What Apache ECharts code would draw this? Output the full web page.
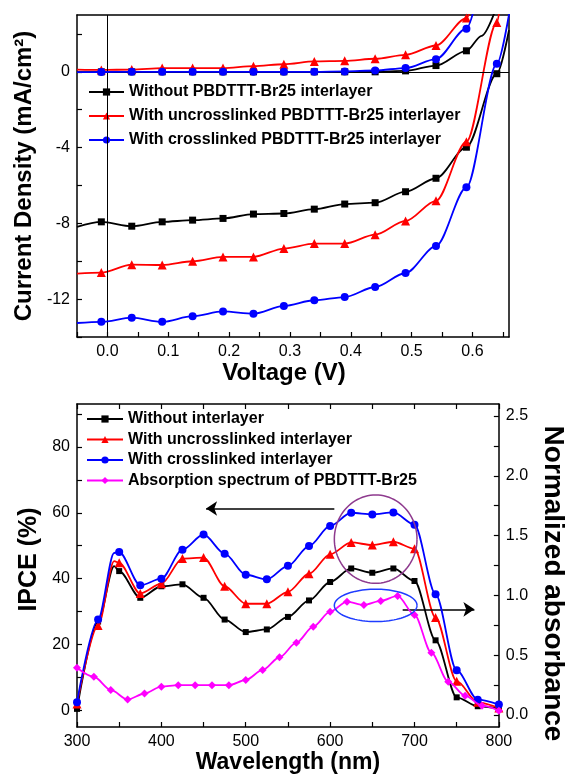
<!DOCTYPE html>
<html><head><meta charset="utf-8">
<script src="https://cdn.jsdelivr.net/npm/echarts@6/dist/echarts.min.js"></script>
<style>html,body{margin:0;padding:0;background:#fff}#c{width:575px;height:776px}</style>
</head><body><div id="c"></div>
<script>
// ================= J-V curves (top panel) =================
const jvNames = ['Without PBDTTT-Br25 interlayer', 'With uncrosslinked PBDTTT-Br25 interlayer', 'With crosslinked PBDTTT-Br25 interlayer'];
// illuminated curves
const vBlackLight = [-0.05, -0.01, 0.04, 0.09, 0.14, 0.19, 0.24, 0.29, 0.34, 0.39, 0.44, 0.49, 0.54, 0.59, 0.64, 0.66];
const jBlackLight = [-8.18, -7.92, -8.15, -7.92, -7.83, -7.74, -7.51, -7.48, -7.25, -6.98, -6.91, -6.33, -5.62, -3.98, -0.1, 2.2];
const vRedLight = [-0.05, -0.01, 0.04, 0.09, 0.14, 0.19, 0.24, 0.29, 0.34, 0.39, 0.44, 0.49, 0.54, 0.59, 0.64, 0.645];
const jRedLight = [-10.65, -10.6, -10.18, -10.2, -10.0, -9.77, -9.77, -9.33, -9.07, -9.07, -8.6, -7.87, -6.81, -3.69, 2.6, 3.4];
const vBlueLight = [-0.05, -0.01, 0.04, 0.09, 0.14, 0.19, 0.24, 0.29, 0.34, 0.39, 0.44, 0.49, 0.54, 0.59, 0.64, 0.662];
const jBlueLight = [-13.26, -13.2, -12.98, -13.2, -12.9, -12.65, -12.77, -12.36, -12.06, -11.89, -11.36, -10.62, -9.2, -6.1, 0.42, 3.4];
// dark curves
const vBlackDark = [-0.05, -0.01, 0.04, 0.09, 0.14, 0.19, 0.24, 0.29, 0.34, 0.39, 0.44, 0.49, 0.54, 0.59, 0.615, 0.645];
const jBlackDark = [-0.02, 0, 0, 0, 0, 0, 0, 0, 0, 0, 0, 0.05, 0.33, 1.11, 1.9, 3.9];
const vRedDark = [-0.05, -0.01, 0.04, 0.09, 0.14, 0.19, 0.24, 0.29, 0.34, 0.39, 0.44, 0.49, 0.54, 0.59, 0.605];
const jRedDark = [0.12, 0.1, 0.12, 0.2, 0.2, 0.2, 0.3, 0.4, 0.55, 0.58, 0.69, 0.9, 1.39, 2.84, 4.2];
const vBlueDark = [-0.05, -0.01, 0.04, 0.09, 0.14, 0.19, 0.24, 0.29, 0.34, 0.39, 0.44, 0.49, 0.54, 0.59, 0.605];
const jBlueDark = [-0.02, -0.01, 0, 0, 0, 0, 0, 0, 0, 0.02, 0.07, 0.2, 0.67, 2.28, 3.6];
// axis ticks
const jvXTicks = [-0.05, 0, 0.05, 0.1, 0.15, 0.2, 0.25, 0.3, 0.35, 0.4, 0.45, 0.5, 0.55, 0.6, 0.65];
const jvXLabels = [0, 0.1, 0.2, 0.3, 0.4, 0.5, 0.6];
const jvYTicks = [-14, -12, -10, -8, -6, -4, -2, 0, 2];
const jvYLabels = [-12, -8, -4, 0];

// ================= IPCE / absorption (bottom panel) =================
const ipceNames = ['Without interlayer', 'With uncrosslinked interlayer', 'With crosslinked interlayer', 'Absorption spectrum of PBDTTT-Br25'];
const wlIPCE = [300, 325, 344, 350, 375, 400, 425, 450, 475, 500, 525, 550, 575, 600, 625, 650, 675, 700, 725, 750, 775, 800];
const ipceBlack = [0.5, 27.0, 43.8, 42.3, 34.2, 37.7, 38.3, 34.2, 27.6, 23.8, 24.6, 28.4, 33.4, 39.0, 43.1, 41.8, 43.1, 39.3, 21.3, 4.0, 1.3, 0.6];
const ipceRed = [2.0, 25.8, 45.3, 44.8, 35.5, 38.5, 46.1, 46.4, 37.7, 32.4, 32.4, 36.0, 41.5, 47.4, 51.0, 50.2, 51.2, 49.1, 28.2, 8.9, 2.5, 0.8];
const ipceBlue = [2.5, 27.6, 47.8, 48.1, 38.0, 40.0, 48.8, 53.4, 47.6, 41.2, 39.8, 43.9, 49.9, 56.0, 60.0, 59.5, 60.1, 56.4, 35.3, 12.2, 3.3, 1.8];
const wlAbs = [300, 320, 340, 360, 380, 400, 420, 440, 460, 480, 500, 520, 540, 560, 580, 600, 620, 640, 660, 680, 700, 720, 740, 760, 780, 800];
const absPink = [0.396, 0.32, 0.21, 0.13, 0.18, 0.237, 0.25, 0.25, 0.25, 0.25, 0.293, 0.377, 0.483, 0.605, 0.739, 0.864, 0.948, 0.92, 0.954, 0.996, 0.837, 0.521, 0.279, 0.162, 0.078, 0.036];
const wlTicks = [300, 350, 400, 450, 500, 550, 600, 650, 700, 750, 800];
const wlLabels = [300, 400, 500, 600, 700, 800];
const ipceTicks = [0, 10, 20, 30, 40, 50, 60, 70, 80, 90];
const ipceLabels = [0, 20, 40, 60, 80];
const absTicks = [0, 0.25, 0.5, 0.75, 1, 1.25, 1.5, 1.75, 2, 2.25, 2.5];
const absLabels = [0, 0.5, 1, 1.5, 2, 2.5];
// annotations (data units: wavelength, IPCE)
const arrowLeft = [[605, 61.3], [453, 61.3]];
const arrowRight = [[686, 30.7], [771, 30.7]];
const circlePurple = {wl: 654, ipce: 52, rwl: 49, ripce: 13.4};
const ellipseBlue = {wl: 654, ipce: 31.9, rwl: 49, ripce: 4.9};

const FONT = '"Liberation Sans", Arial, sans-serif';
const chart = echarts.init(document.getElementById('c'), null, {renderer: 'canvas'});

function near(a, b) { return Math.abs(a - b) < 1e-6; }
function jvData(vs, js) {
  return vs.map((v, i) => {
    const k = (v + 0.01) / 0.05;
    const mark = v > -0.02 && near(k, Math.round(k));
    return mark ? [v, js[i]] : {value: [v, js[i]], symbol: 'none'};
  });
}
function ipceData(ws, ys) {
  return ws.map((w, i) => (w % 25 === 0) ? [w, ys[i]] : {value: [w, ys[i]], symbol: 'none'});
}
const colors = ['#000000', '#ff0000', '#0000ff', '#ff00ff'];
const symbols = ['rect', 'triangle', 'circle', 'diamond'];
const sizes = [7, 9, 8, 9];

function lineSeries(name, idx, data, xi, yi, extra) {
  return Object.assign({
    type: 'line', name, data, xAxisIndex: xi, yAxisIndex: yi,
    smooth: 0.3, smoothMonotone: 'x',
    symbol: symbols[idx], symbolSize: sizes[idx],
    itemStyle: {color: colors[idx]},
    lineStyle: {color: colors[idx], width: 1.8},
    emphasis: {disabled: true}, clip: true, z: 3 + idx
  }, extra || {});
}

const axisLineStyle = {show: true, onZero: false, lineStyle: {color: '#000', width: 1.5}};
const labelStyle = {color: '#000', fontSize: 16, fontFamily: FONT};
const nameStyle = (size, pad) => ({color: '#000', fontSize: size, fontWeight: 'bold', fontFamily: FONT, padding: pad || 0});

const option = {
  animation: false,
  backgroundColor: '#fff',
  grid: [
    {left: 77, top: 15, width: 432, height: 322},
    {left: 77, top: 404, width: 433, height: 323}
  ],
  legend: [
    {data: jvNames, orient: 'vertical', left: 83, top: 79, itemWidth: 35, itemHeight: 9, itemGap: 8,
     textStyle: {fontSize: 16, fontWeight: 'bold', color: '#000', fontFamily: FONT}},
    {data: ipceNames, orient: 'vertical', left: 81, top: 406, itemWidth: 36, itemHeight: 9, itemGap: 4.5,
     textStyle: {fontSize: 16, fontWeight: 'bold', color: '#000', fontFamily: FONT}}
  ],
  xAxis: [
    {gridIndex: 0, type: 'value', min: -0.05, max: 0.66, position: 'bottom',
     axisLine: axisLineStyle,
     axisTick: {show: true, inside: true, length: 5, customValues: jvXTicks, lineStyle: {color: '#000', width: 1.2}},
     axisLabel: {customValues: jvXLabels, formatter: v => v.toFixed(1), margin: 7, ...labelStyle},
     splitLine: {show: false},
     name: 'Voltage (V)', nameLocation: 'middle', nameGap: 22, nameTextStyle: nameStyle(24, [0, 18, 0, 0])},
    {gridIndex: 0, type: 'value', min: -0.05, max: 0.66, position: 'top',
     axisLine: axisLineStyle, axisTick: {show: false}, axisLabel: {show: false}, splitLine: {show: false}},
    {gridIndex: 1, type: 'value', min: 300, max: 800, position: 'bottom',
     axisLine: axisLineStyle,
     axisTick: {show: true, inside: true, length: 5, customValues: wlTicks, lineStyle: {color: '#000', width: 1.2}},
     axisLabel: {customValues: wlLabels, margin: 7, ...labelStyle},
     splitLine: {show: false},
     name: 'Wavelength (nm)', nameLocation: 'middle', nameGap: 23, nameTextStyle: nameStyle(23)},
    {gridIndex: 1, type: 'value', min: 300, max: 800, position: 'top',
     axisLine: axisLineStyle,
     axisTick: {show: true, inside: true, length: 5, customValues: wlTicks, lineStyle: {color: '#000', width: 1.2}},
     axisLabel: {show: false}, splitLine: {show: false}}
  ],
  yAxis: [
    {gridIndex: 0, type: 'value', min: -14, max: 3, position: 'left',
     axisLine: axisLineStyle,
     axisTick: {show: true, inside: true, length: 5, customValues: jvYTicks, lineStyle: {color: '#000', width: 1.2}},
     axisLabel: {customValues: jvYLabels, margin: 7, ...labelStyle},
     splitLine: {show: false},
     name: 'Current Density (mA/cm²)', nameLocation: 'middle', nameGap: 33, nameTextStyle: nameStyle(24)},
    {gridIndex: 0, type: 'value', min: -14, max: 3, position: 'right',
     axisLine: axisLineStyle, axisTick: {show: false}, axisLabel: {show: false}, splitLine: {show: false}},
    {gridIndex: 1, type: 'value', min: -5, max: 93, position: 'left',
     axisLine: axisLineStyle,
     axisTick: {show: true, inside: true, length: 5, customValues: ipceTicks, lineStyle: {color: '#000', width: 1.2}},
     axisLabel: {customValues: ipceLabels, margin: 7, ...labelStyle},
     splitLine: {show: false},
     name: 'IPCE (%)', nameLocation: 'middle', nameGap: 33, nameTextStyle: nameStyle(25, [0, 0, 0, 12])},
    {gridIndex: 1, type: 'value', min: -0.1, max: 2.6, position: 'right',
     axisLine: axisLineStyle,
     axisTick: {show: true, inside: true, length: 5, customValues: absTicks, lineStyle: {color: '#000', width: 1.2}},
     axisLabel: {customValues: absLabels, formatter: v => v.toFixed(1), margin: 7, ...labelStyle},
     splitLine: {show: false},
     name: 'Normalized absorbance', nameLocation: 'middle', nameGap: 40, nameRotate: -90,
     nameTextStyle: nameStyle(28, [0, 0, 0, 36])}
  ],
  series: [
    lineSeries(jvNames[0], 0, jvData(vBlackLight, jBlackLight), 0, 0, {
      markLine: {silent: true, symbol: 'none', label: {show: false}, emphasis: {disabled: true},
        lineStyle: {color: '#000', width: 1, type: 'solid'}, data: [{xAxis: 0}, {yAxis: 0}]}
    }),
    lineSeries(jvNames[0], 0, jvData(vBlackDark, jBlackDark), 0, 0),
    lineSeries(jvNames[1], 1, jvData(vRedLight, jRedLight), 0, 0),
    lineSeries(jvNames[1], 1, jvData(vRedDark, jRedDark), 0, 0),
    lineSeries(jvNames[2], 2, jvData(vBlueLight, jBlueLight), 0, 0),
    lineSeries(jvNames[2], 2, jvData(vBlueDark, jBlueDark), 0, 0),
    lineSeries(ipceNames[0], 0, ipceData(wlIPCE, ipceBlack), 2, 2, {symbolSize: 6}),
    lineSeries(ipceNames[1], 1, ipceData(wlIPCE, ipceRed), 2, 2),
    lineSeries(ipceNames[2], 2, ipceData(wlIPCE, ipceBlue), 2, 2, {
      markLine: {silent: true, symbol: ['none', 'arrow'], symbolSize: 11, label: {show: false}, emphasis: {disabled: true},
        lineStyle: {color: '#000', width: 1.5, type: 'solid'},
        data: [
          [{coord: arrowLeft[0]}, {coord: arrowLeft[1]}],
          [{coord: arrowRight[0]}, {coord: arrowRight[1]}]
        ]}
    }),
    lineSeries(ipceNames[3], 3, wlAbs.map((w, i) => [w, absPink[i]]), 2, 3, {symbolSize: 8})
  ]
};
chart.setOption(option);

function ellipsePoints(spec, blueIdx) {
  const c = chart.convertToPixel({seriesIndex: blueIdx}, [spec.wl, spec.ipce]);
  const ex = chart.convertToPixel({seriesIndex: blueIdx}, [spec.wl + spec.rwl, spec.ipce + spec.ripce]);
  const rx = Math.abs(ex[0] - c[0]), ry = Math.abs(ex[1] - c[1]);
  const pts = [];
  for (let i = 0; i <= 96; i++) {
    const t = i / 96 * Math.PI * 2;
    pts.push([c[0] + rx * Math.cos(t), c[1] + ry * Math.sin(t)]);
  }
  return pts;
}
chart.setOption({
  graphic: [
    {type: 'polyline', z: 20, shape: {points: ellipsePoints(circlePurple, 8)}, style: {stroke: '#8e3a8e', lineWidth: 1.5, fill: null}, silent: true},
    {type: 'polyline', z: 20, shape: {points: ellipsePoints(ellipseBlue, 8)}, style: {stroke: '#1e3cff', lineWidth: 1.5, fill: null}, silent: true}
  ]
});
</script>
</body></html>
